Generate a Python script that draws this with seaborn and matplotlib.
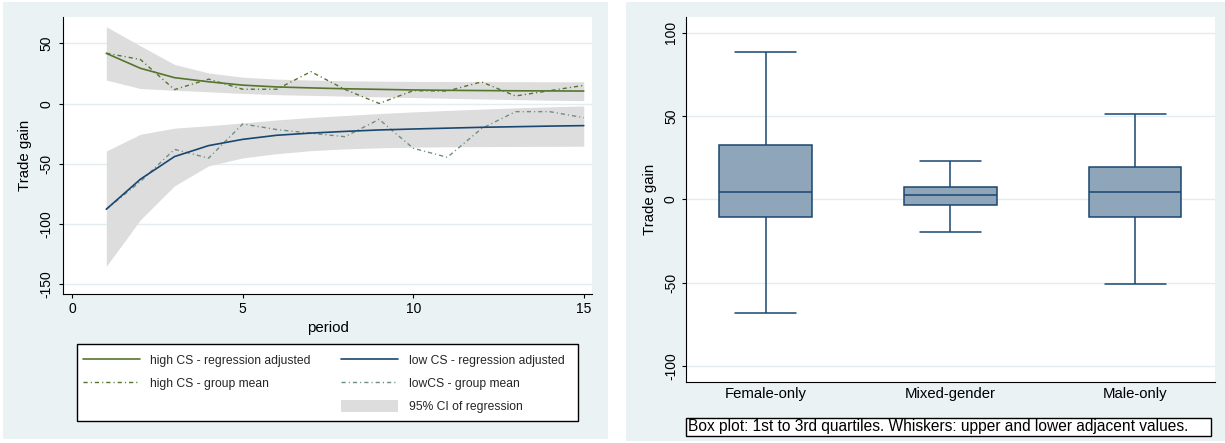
import numpy as np
import pandas as pd
import matplotlib
matplotlib.use("Agg")
import matplotlib.pyplot as plt
import seaborn as sns
from matplotlib.lines import Line2D
from matplotlib.patches import Patch, Rectangle

# ---------------- data ----------------
periods = list(range(1, 16))
high_reg = [41.8, 29.4, 21.6, 18.2, 15.4, 13.9, 13.1, 12.4, 11.9, 11.4, 11.1, 10.9, 10.7, 10.6, 10.5]
high_hi = [63.9, 48.0, 32.6, 25.5, 22.0, 20.4, 19.6, 19.0, 18.7, 18.5, 18.4, 18.3, 18.3, 18.2, 18.2]
high_lo = [19.6, 12.6, 11.1, 9.9, 8.5, 7.5, 6.9, 6.3, 5.7, 5.1, 4.5, 3.9, 3.4, 2.9, 2.5]
high_mean = [41.9, 36.7, 11.7, 20.4, 12.0, 12.0, 26.6, 11.8, 0.2, 10.8, 10.5, 18.1, 6.4, 10.8, 15.2]

low_reg = [-87.6, -62.7, -43.9, -34.8, -29.6, -26.2, -24.4, -23.0, -21.8, -21.0, -20.3, -19.6, -19.1, -18.6, -18.2]
low_hi = [-39.3, -25.4, -20.3, -18.3, -16.0, -13.5, -11.4, -9.8, -8.2, -6.8, -5.6, -4.5, -3.5, -2.6, -1.9]
low_lo = [-135.0, -96.4, -68.2, -51.6, -45.0, -41.5, -39.0, -37.5, -36.6, -36.1, -35.8, -35.6, -35.5, -35.4, -35.3]
low_mean = [-87.6, -64.6, -37.9, -45.2, -16.8, -21.5, -24.5, -27.4, -13.0, -37.0, -44.5, -20.7, -6.6, -6.6, -11.6]

legend_labels = ["high CS - regression adjusted", "high CS - group mean", "",
                 "low CS - regression adjusted", "lowCS - group mean", "95% CI of regression"]

groups = ["Female-only", "Mixed-gender", "Male-only"]
box_low = [-68.0, -19.6, -50.8]
box_q1 = [-10.6, -3.4, -10.6]
box_med = [4.6, 2.4, 4.6]
box_q3 = [32.8, 7.6, 19.6]
box_high = [88.6, 22.8, 51.2]

note_text = "Box plot: 1st to 3rd quartiles. Whiskers: upper and lower adjacent values."

# ---------------- style ----------------
sns.set_theme(style="ticks")
plt.rcParams["font.family"] = ["Liberation Sans", "DejaVu Sans"]
plt.rcParams["axes.unicode_minus"] = False

green = "#55752f"
navy = "#1a476f"
teal = "#6e8e84"
ci_col = "#dddddd"
bg = "#eaf2f3"
grid_col = "#e3ecef"
box_fill = "#8fa5ba"
dashdot = (0, (3.0, 2.2, 0.8, 2.2))

W, H = 1225, 443
fig = plt.figure(figsize=(W / 100, H / 100), dpi=100)
fig.patch.set_facecolor("white")


def fr(x0, y0, x1, y1):
    return [x0 / W, 1 - y1 / H, (x1 - x0) / W, (y1 - y0) / H]


for (x0, y0, x1, y1) in [(3, 2, 608, 439), (626, 2, 1225, 441)]:
    r = fr(x0, y0, x1, y1)
    fig.add_artist(Rectangle((r[0], r[1]), r[2], r[3], transform=fig.transFigure,
                             facecolor=bg, edgecolor="none", zorder=-10))

ax1 = fig.add_axes(fr(63.3, 17.3, 592.3, 294.3))
ax2 = fig.add_axes(fr(686, 17.3, 1215, 381.5))

for ax in (ax1, ax2):
    ax.set_facecolor("white")
    for s in ("top", "right"):
        ax.spines[s].set_visible(False)
    for s in ("left", "bottom"):
        ax.spines[s].set_color("black")
        ax.spines[s].set_linewidth(0.8)
    ax.yaxis.grid(True, color=grid_col, lw=1.0, zorder=0)
    ax.xaxis.grid(False)
    ax.set_axisbelow(True)

# ---------------- left panel ----------------
ax1.fill_between(periods, high_lo, high_hi, color=ci_col, lw=0, zorder=1)
ax1.fill_between(periods, low_lo, low_hi, color=ci_col, lw=0, zorder=1)
sns.lineplot(x=periods, y=high_mean, ax=ax1, color=green, lw=1.0, linestyle=dashdot, errorbar=None, zorder=3)
sns.lineplot(x=periods, y=low_mean, ax=ax1, color=teal, lw=1.0, linestyle=dashdot, errorbar=None, zorder=3)
sns.lineplot(x=periods, y=high_reg, ax=ax1, color=green, lw=1.2, errorbar=None, zorder=4)
sns.lineplot(x=periods, y=low_reg, ax=ax1, color=navy, lw=1.2, errorbar=None, zorder=4)

ax1.set_xlim(-0.26, 15.25)
ax1.set_ylim(-158.2, 71.7)
ax1.set_xticks([0, 5, 10, 15])
ax1.set_yticks([-150, -100, -50, 0, 50])
ax1.tick_params(axis="both", direction="out", length=2.9, width=0.8, color="black",
                labelcolor="black", labelsize=10)
ax1.tick_params(axis="y", labelrotation=90, pad=4.5)
ax1.tick_params(axis="x", pad=2.9)
for t in ax1.get_yticklabels():
    t.set_va("center")
ax1.set_xlabel("period", fontsize=10.8, color="black")
ax1.set_ylabel("Trade gain", fontsize=10.8, color="black")
ax1.xaxis.set_label_coords(0.5, -0.0946)
ax1.yaxis.set_label_coords(-0.0592, 0.5)

# legend
lr = fr(77.3, 344, 578, 420.7)
fig.add_artist(Rectangle((lr[0], lr[1]), lr[2], lr[3], transform=fig.transFigure,
                         facecolor="white", edgecolor="black", lw=1.0, zorder=5))
handles = [Line2D([], [], color=green, lw=1.2),
           Line2D([], [], color=green, lw=1.0, linestyle=dashdot),
           Line2D([], [], alpha=0),
           Line2D([], [], color=navy, lw=1.2),
           Line2D([], [], color=teal, lw=1.0, linestyle=dashdot),
           Patch(facecolor=ci_col, edgecolor="none")]
leg = fig.legend(handles, legend_labels, ncol=2, loc="upper left",
                 bbox_to_anchor=(83 / W, 1 - 353.5 / H), borderaxespad=0, borderpad=0,
                 frameon=False, fontsize=8.75, handlelength=4.7, handletextpad=0.85,
                 columnspacing=2.5, labelspacing=0.82, handleheight=1.15)
leg.set_zorder(6)

# ---------------- right panel ----------------
vals = np.column_stack([box_low, box_q1, box_med, box_q3, box_high]).ravel()
df = pd.DataFrame({"group": np.repeat(groups, 5), "value": vals})
sns.boxplot(data=df, x="group", y="value", order=groups, ax=ax2, width=0.5,
            color=box_fill, linecolor=navy, linewidth=1.1, saturation=1,
            whis=(0, 100), showfliers=False, capwidths=0.33)

ax2.set_xlim(-0.431, 2.432)
ax2.set_ylim(-109.4, 109.2)
ax2.set_yticks([-100, -50, 0, 50, 100])
ax2.tick_params(axis="y", direction="out", length=2.9, width=0.8, color="black",
                labelcolor="black", labelsize=10, labelrotation=90, pad=2.9)
for t in ax2.get_yticklabels():
    t.set_va("center")
ax2.tick_params(axis="x", length=0, labelsize=10.7, labelcolor="black", pad=4.1)
ax2.set_xlabel("")
ax2.set_ylabel("Trade gain", fontsize=10.8, color="black")
ax2.yaxis.set_label_coords(-0.0548, 0.5)

nr = fr(686, 418, 1210.7, 435.5)
fig.add_artist(Rectangle((nr[0], nr[1]), nr[2], nr[3], transform=fig.transFigure,
                         facecolor="white", edgecolor="black", lw=1.0, zorder=5))
fig.text(688.5 / W, 1 - 427 / H, note_text, fontsize=11.2, color="black",
         ha="left", va="center", zorder=6)

fig.savefig("out.png", dpi=100, facecolor="white")
